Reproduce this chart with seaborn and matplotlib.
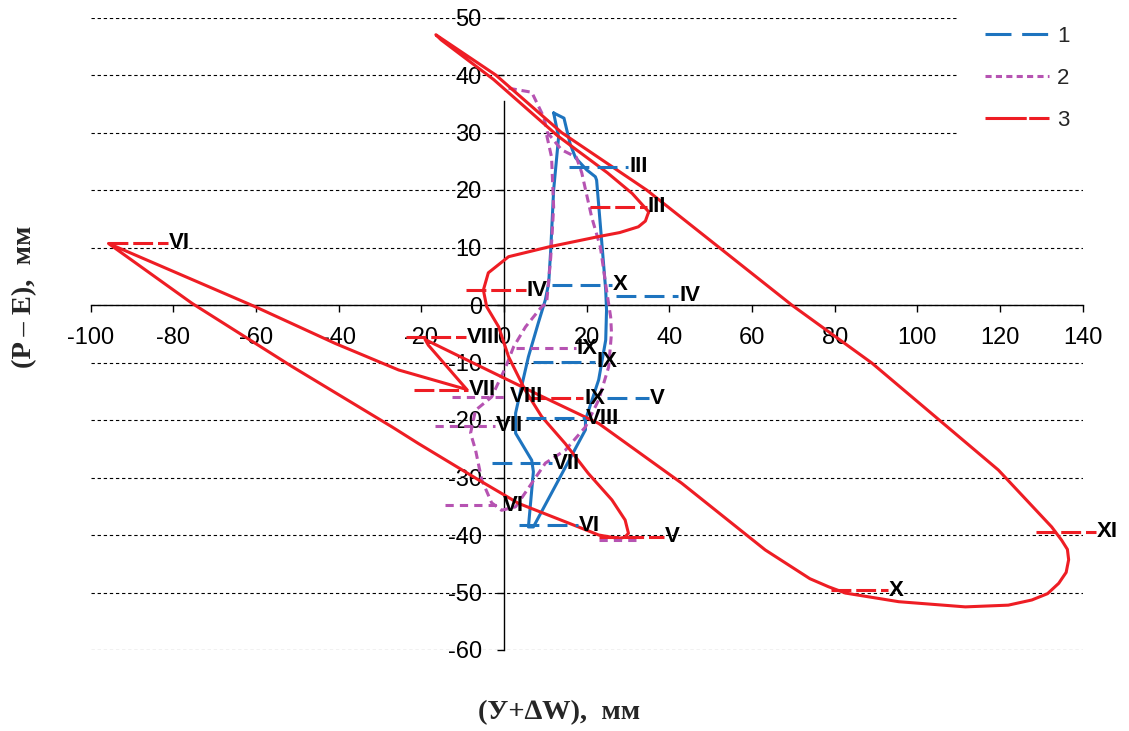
import numpy as np
import pandas as pd
import matplotlib
matplotlib.use("Agg")
import matplotlib.pyplot as plt
import seaborn as sns
from matplotlib.lines import Line2D

# ---------------- data ----------------
series_names = ["1", "2", "3"]

# series 1 (blue)
s1_x = [12.0, 14.5, 16.0, 17.3, 20.0, 22.1, 22.4, 23.6, 24.6, 24.8, 24.6, 22.9, 19.7, 19.7,
        7.1, 5.9, 7.1, 6.7, 5.2, 2.8, 2.8, 4.2, 5.9, 8.3, 10.0, 10.8, 11.3, 12.0, 13.2, 12.0]
s1_y = [33.4, 32.5, 28.0, 25.6, 23.5, 22.3, 21.7, 11.3, 2.6, -0.9, -6.1, -13.0, -20.0, -21.7,
        -38.6, -38.6, -29.0, -27.0, -25.2, -22.3, -18.8, -14.3, -9.0, -3.1, 0.9, 3.8, 9.6, 20.0, 29.2, 33.4]

# series 2 (purple)
s2_x = [1.1, 6.7, 9.6, 10.5, 13.9, 17.5, 18.8, 21.2, 23.3, 24.8, 25.8, 26.0, 25.3, 22.9, 19.7,
        14.9, 10.0, 6.7, 2.8, -0.6, -3.0, -5.4, -6.9, -8.1, -6.9, -3.0, 0.4, 2.3, 5.2, 9.1,
        10.3, 11.3, 12.0, 11.5, 10.3]
s2_y = [37.7, 37.0, 32.7, 30.0, 27.0, 25.7, 23.0, 15.3, 10.1, 2.6, -2.1, -4.9, -10.8, -16.5, -21.2,
        -25.2, -27.5, -31.0, -35.1, -35.7, -34.4, -30.4, -25.2, -22.3, -18.3, -16.0, -10.8, -7.3, -3.8, -0.3,
        0.3, 8.3, 17.0, 25.7, 29.6]

# series 3 (red)
s3_x = [35.0, 34.2, 32.5, 28.0, 22.9, 10.8, 1.1, -3.8, -5.0, -4.2, -1.3, 1.1, 5.1, 9.1, 14.8, 20.4, 26.1,
        29.3, 30.1, 29.2, 27.7, 22.9, 18.0, 3.5, -6.2, -20.7, -27.1, -51.3, -75.5, -95.7, -60.2, -40.8,
        -25.5, -9.0, -18.3, -19.1, -8.0, 8.0, 22.9, 43.0, 63.2, 74.0, 78.5, 82.6, 95.5, 111.6, 122.0, 127.7,
        131.5, 134.2, 136.0, 136.6, 136.3, 134.9, 132.5, 119.6, 104.3, 89.0, 69.6, 34.5, 13.9, -2.0, -16.5, -15.2,
        -2.5, 13.0, 25.0, 31.0, 35.0]
s3_y = [16.2, 14.6, 13.6, 12.6, 11.9, 10.1, 8.4, 5.6, 2.6, -0.3, -3.8, -9.0, -14.8, -19.4, -24.1, -29.3, -33.9,
        -37.4, -39.7, -40.4, -40.6, -40.0, -38.6, -34.5, -30.4, -24.1, -21.2, -10.7, 0.3, 10.7, -0.3, -6.7,
        -11.3, -14.7, -7.0, -6.0, -9.9, -15.5, -20.6, -31.0, -42.6, -47.6, -49.0, -50.1, -51.6, -52.5, -52.2, -51.3,
        -50.2, -48.4, -46.5, -44.3, -42.5, -40.9, -38.6, -28.7, -19.4, -10.1, 0.0, 20.0, 30.0, 40.0, 47.0, 46.1,
        39.2, 29.4, 23.0, 19.4, 16.2]

# month labels with their horizontal leader lines
s1_lbl = ["III", "IV", "V", "VI", "VII", "VIII", "IX", "X"]
s1_lbl_y = [24.0, 1.6, -16.2, -38.3, -27.5, -19.7, -9.9, 3.5]
s1_lbl_x0 = [15.6, 27.0, 24.8, 3.5, -3.0, 5.2, 7.1, 11.5]
s1_lbl_x1 = [30.1, 42.2, 35.0, 18.0, 11.5, 19.7, 22.1, 26.0]

s2_lbl = ["", "VI", "VII", "VIII", "IX"]
s2_lbl_y = [-40.9, -34.8, -21.0, -16.0, -7.5]
s2_lbl_x0 = [22.9, -14.2, -16.6, -12.7, 2.8]
s2_lbl_x1 = [32.5, -0.6, -2.1, 1.1, 17.3]

s3_lbl = ["III", "IV", "V", "VI", "VII", "VIII", "IX", "X", "XI"]
s3_lbl_y = [17.1, 2.6, -40.3, 10.8, -14.7, -5.6, -16.2, -49.6, -39.4]
s3_lbl_x0 = [20.9, -9.3, 22.9, -95.7, -21.9, -23.6, 5.2, 79.2, 128.6]
s3_lbl_x1 = [34.5, 5.2, 38.6, -81.2, -8.6, -9.1, 19.2, 93.0, 143.2]

x_ticks = list(range(-100, 141, 20))
y_ticks = list(range(-60, 51, 10))
x_title = "(У+∆W),  мм"
y_title = "(P – E),  мм"

# ---------------- styling ----------------
sns.set_theme(style="white")
plt.rcParams["font.family"] = ["Liberation Sans", "DejaVu Sans"]
plt.rcParams["axes.unicode_minus"] = False

C_BLUE = "#1E74BF"
C_PURP = "#B653B2"
C_RED = "#EE1D24"
LW = 2.2

fig = plt.figure(figsize=(11.29, 7.31), dpi=100)
ax = fig.add_axes([90.7 / 1129, 1 - 650 / 731, (1082.7 - 90.7) / 1129, (650 - 17.5) / 731])

df = pd.concat([
    pd.DataFrame({"x": s1_x, "y": s1_y, "s": series_names[0]}),
    pd.DataFrame({"x": s2_x, "y": s2_y, "s": series_names[1]}),
    pd.DataFrame({"x": s3_x, "y": s3_y, "s": series_names[2]}),
], ignore_index=True)

styles = {
    "1": dict(color=C_BLUE, ls="-", lead=(0, (6.5, 2.7))),
    "2": dict(color=C_PURP, ls=(0, (2.7, 1.6)), lead=(0, (2.7, 2.0))),
    "3": dict(color=C_RED, ls="-", lead=(0, (6.5, 1.6))),
}

labels_by_series = {
    "1": (s1_lbl, s1_lbl_y, s1_lbl_x0, s1_lbl_x1),
    "2": (s2_lbl, s2_lbl_y, s2_lbl_x0, s2_lbl_x1),
    "3": (s3_lbl, s3_lbl_y, s3_lbl_x0, s3_lbl_x1),
}

for z, name in enumerate(series_names):
    st = styles[name]
    sub = df[df["s"] == name]
    sns.lineplot(data=sub, x="x", y="y", sort=False, estimator=None, ax=ax,
                 color=st["color"], linewidth=LW, linestyle=st["ls"], legend=False,
                 zorder=3 + z)

for z, name in enumerate(series_names):
    st = styles[name]
    lbl, ly, lx0, lx1 = labels_by_series[name]
    for t, yy, a, b in zip(lbl, ly, lx0, lx1):
        ax.plot([a, b], [yy, yy], color=st["color"], linewidth=LW, linestyle=st["lead"],
                zorder=6 + z, clip_on=False, solid_capstyle="butt", dash_capstyle="butt")
        if t:
            ax.text(b + 0.2, yy, t, ha="left", va="center", fontsize=16, fontweight="bold",
                    color="black", zorder=10, clip_on=False)

ax.set_xlim(-100, 140)
ax.set_ylim(-60, 50)
ax.set_xticks(x_ticks)
ax.set_yticks(y_ticks)
ax.set_xticklabels([str(v) for v in x_ticks])
ax.set_yticklabels([str(v) for v in y_ticks])
ax.set_xlabel("")
ax.set_ylabel("")

for s in ["top", "right"]:
    ax.spines[s].set_visible(False)
ax.spines["left"].set_position(("data", 0))
ax.spines["bottom"].set_position(("data", 0))
for s in ["left", "bottom"]:
    ax.spines[s].set_color("black")
    ax.spines[s].set_linewidth(1.0)
    ax.spines[s].set_zorder(2)
ax.spines["left"].set_bounds(-60, 35.5)

ax.tick_params(axis="both", which="both", bottom=True, left=True, direction="out",
               length=5, width=1, color="black", labelsize=17, labelcolor="black", pad=11)

ax.set_axisbelow(True)
ax.yaxis.grid(True, color="black", linestyle=(0, (3, 2.5)), linewidth=0.8)
ax.xaxis.grid(False)
ax.set_facecolor("white")

handles = [
    Line2D([], [], color=C_BLUE, linewidth=LW, linestyle=(0, (8.5, 3.5))),
    Line2D([], [], color=C_PURP, linewidth=LW, linestyle=(0, (2.0, 1.4))),
    Line2D([], [], color=C_RED, linewidth=LW, linestyle=(0, (13.5, 0.8))),
]
leg = ax.legend(handles, series_names, loc="upper left",
                bbox_to_anchor=(957 / 1129, 1 + 2 / 731), bbox_transform=fig.transFigure,
                frameon=True, fontsize=16, handlelength=2.9, handletextpad=0.35,
                labelspacing=0.95, borderpad=1.26, borderaxespad=0)
leg.get_frame().set_facecolor("white")
leg.get_frame().set_edgecolor("none")
leg.get_frame().set_alpha(1)
leg.set_zorder(20)

serif = ["Liberation Serif", "DejaVu Serif"]
fig.text(559 / 1129, 1 - 713 / 731, x_title, ha="center", va="center", fontsize=20.5,
         fontweight="bold", family=serif)
fig.text(25 / 1129, 1 - 297 / 731, y_title, ha="center", va="center", fontsize=20.5,
         fontweight="bold", family=serif, rotation=90)

fig.savefig("out.png", dpi=100)
